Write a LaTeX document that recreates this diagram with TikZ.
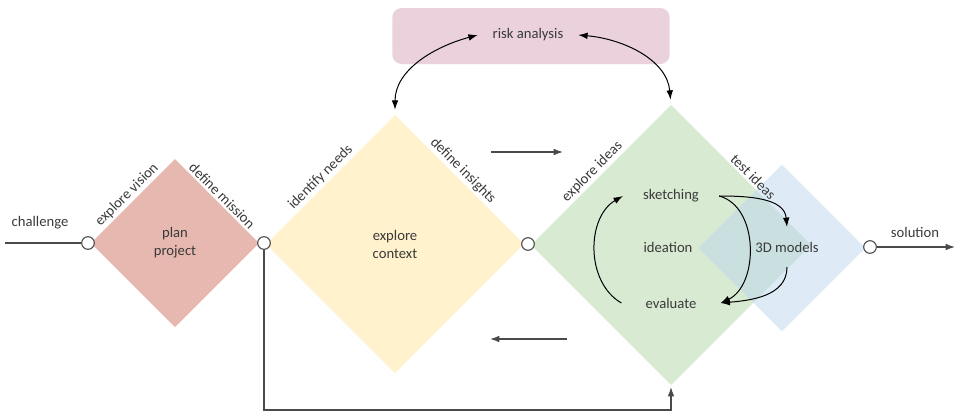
\documentclass[tikz,border=0pt]{standalone}
\usepackage{fontspec}
\setmainfont{Carlito}
\usetikzlibrary{arrows.meta, calc, positioning, shapes.geometric}
\definecolor{planred}{HTML}{E6B8AF}
\definecolor{ctxyellow}{HTML}{FFF2CC}
\definecolor{ideagreen}{HTML}{D9EAD3}
\definecolor{testblue}{HTML}{BDD7EE}
\definecolor{riskpink}{HTML}{EAD1DC}
\definecolor{inkgray}{HTML}{3A3A3A}
\definecolor{linegray}{HTML}{4A4A4A}
\tikzset{
  stage/.style     = {diamond, aspect=1, inner sep=0pt, outer sep=0pt,
                      text=inkgray, align=center},
  portdot/.style   = {circle, fill=white, draw=linegray, line width=0.8pt,
                      minimum size=9.5pt, inner sep=0pt},
  edgelabel/.style = {text=inkgray, inner sep=1.5pt, anchor=south},
  steplabel/.style = {text=inkgray, inner xsep=15pt, inner ysep=3pt},
  flowline/.style  = {draw=linegray, line width=0.9pt},
  loopline/.style  = {draw=black, line width=0.75pt},
  riskbox/.style   = {fill=riskpink, rounded corners=7pt,
                      minimum width=208pt, minimum height=42pt},
}

\begin{document}
\begin{tikzpicture}[x=0.75pt, y=0.75pt,
    >={Latex[length=7pt, width=5pt]},
    every node/.style={font=\fontsize{11}{13.5}\selectfont}]
  \useasboundingbox (0,0) rectangle (956,412);

  % risk analysis on top
  \node[riskbox] (riskbg) at (531,376) {};
  \node[text=inkgray, inner xsep=11pt] (risk) at (528,377) {risk analysis};

  % the four stages
  \node[stage, fill=planred, minimum size=126pt] (plan) at (175,169) {plan\\project};
  \node[stage, fill=ctxyellow, minimum size=193.5pt] (context) at (395,168) {explore\\context};
  \node[stage, fill=ideagreen, minimum size=210pt] (ideas) at (671,167) {};
  \node[stage, fill=testblue, fill opacity=0.5, minimum size=125pt] (test) at (782,164) {};

  % ports between stages
  \node[portdot] (c1) at (88,169) {};
  \node[portdot] (c2) at (264,169) {};
  \node[portdot] (c3) at (528,168) {};
  \node[portdot] (c4) at (870,165) {};

  % labels along the upper edges
  \node[edgelabel, rotate=45] (lvision) at ($(plan.west)!0.5!(plan.north)$) {explore vision};
  \node[edgelabel, rotate=-45] (lmission) at ($(plan.north)!0.5!(plan.east)$) {define mission};
  \node[edgelabel, rotate=45] (lneeds) at ($(context.west)!0.47!(context.north)$) {identify needs};
  \node[edgelabel, rotate=-45] (linsights) at ($(context.north)!0.48!(context.east)$) {define insights};
  \node[edgelabel, rotate=45] (lexplore) at ($(ideas.west)!0.48!(ideas.north)$) {explore ideas};
  \node[edgelabel, rotate=-45] (ltest) at ($(ideas.north)!0.55!(ideas.east)$) {test ideas};

  % ideation loop
  \node[steplabel] (sketch) at (671,216) {sketching};
  \node[steplabel] (ideation) at (668,165) {ideation};
  \node[steplabel, inner xsep=18pt] (evaluate) at (671,109) {evaluate};
  \node[text=inkgray, inner ysep=11pt] (models) at (787,165) {3D models};
  \draw[loopline, ->] (evaluate.west) to[out=150, in=210] (sketch.west);
  \draw[loopline, ->] (sketch.east) to[out=0, in=95] (models.north);
  \draw[loopline, ->] (sketch.east) to[out=-15, in=25] (evaluate.east);
  \draw[loopline, ->] (models.south) to[out=-90, in=5] (evaluate.east);

  % risk analysis links
  \draw[loopline, <->, shorten >=4pt] (risk.west) to[out=195, in=90] (context.north);
  \draw[loopline, <->, shorten >=4pt] (risk.east) to[out=-5, in=95] (ideas.north);

  % flow
  \coordinate (inlet) at (5,169);
  \coordinate (outlet) at (955,165);
  \coordinate (fwdA) at (491,260);
  \coordinate (fwdB) at (563,260);
  \coordinate (backA) at (567,73);
  \coordinate (backB) at (490,73);
  \draw[flowline] (inlet) -- (c1);
  \node[text=inkgray] (challenge) at (40,189) {challenge};
  \draw[flowline, ->] (c4) -- (outlet);
  \node[text=inkgray] (solution) at (915,180) {solution};
  \draw[flowline, ->] (fwdA) -- (fwdB);
  \draw[flowline, ->] (backA) -- (backB);
  \draw[flowline, ->, shorten >=1.5pt] (c2.south) |- (ideas.south |- 0,2) -- (ideas.south);
\end{tikzpicture}
\end{document}
